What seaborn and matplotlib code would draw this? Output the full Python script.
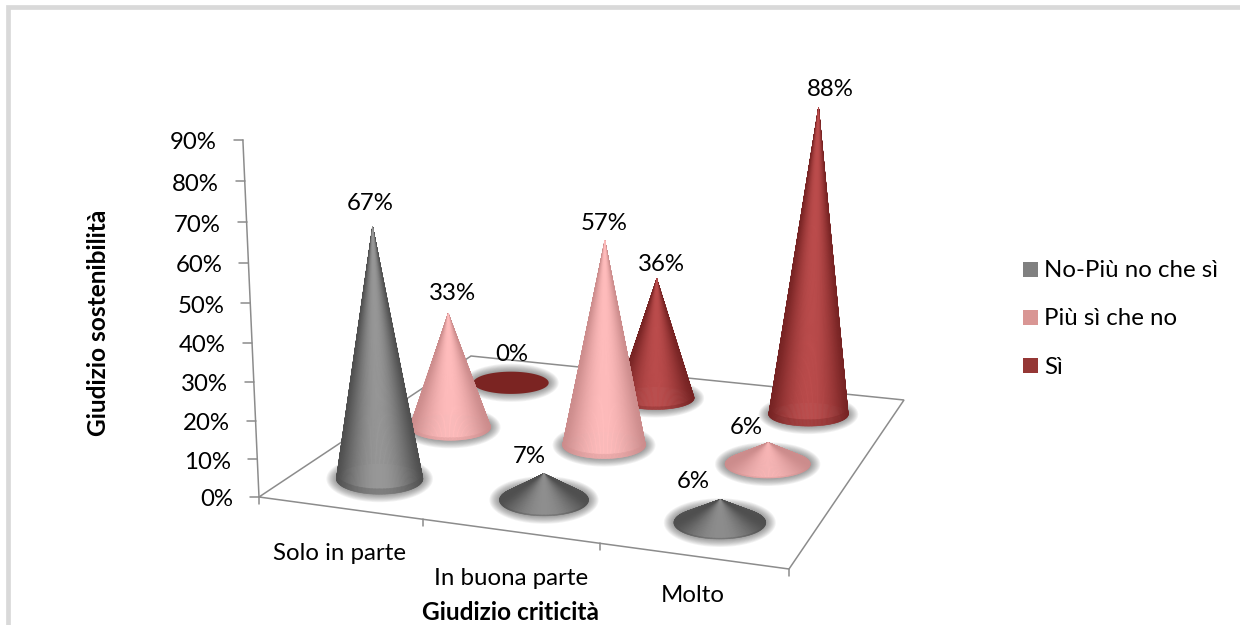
import numpy as np
import pandas as pd
import matplotlib
matplotlib.use("Agg")
import matplotlib.pyplot as plt
from matplotlib.collections import PolyCollection
from matplotlib.colors import to_rgb
from matplotlib.patches import Polygon
import seaborn as sns

# ---- data ----
categories = ["Solo in parte", "In buona parte", "Molto"]
series_names = ["No-Più no che sì", "Più sì che no", "Sì"]
no_values = [67, 7, 6]
mid_values = [33, 57, 6]
yes_values = [0, 36, 88]
tick_values = [0, 10, 20, 30, 40, 50, 60, 70, 80, 90]
x_title = "Giudizio criticità"
y_title = "Giudizio sostenibilità"

# ---- styling ----
sns.set_theme(style="white", font="Lato", rc={"text.color": "black"})
palette = ["#808080", "#D99694", "#953735"]
edge_shade = {0: "#4f4f4f", 1: "#cc8c8c", 2: "#762323"}
core_shade = {0: "#979797", 1: "#ffbcbc", 2: "#bb4c4c"}
FONT = 17.3
AXIS_GREY = "#8c8c8c"

# ---- perspective camera: floor corners, vanishing point of the verticals ----
floor_corners = np.array([[259, 497], [789, 569], [904, 400], [471, 356]], float)
vertical_vp = np.array([575.0, 7500.0])
z_gain = -0.000539
TIP_REACH = 0.985  # cone tips taper to a point slightly short of the nominal height


def floor_homography(c):
    rows, rhs = [], []
    for (u, v), (px, py) in zip([(0, 0), (1, 0), (1, 1), (0, 1)], c):
        rows.append([u, v, 1, 0, 0, 0, -u * px, -v * px])
        rows.append([0, 0, 0, u, v, 1, -u * py, -v * py])
        rhs += [px, py]
    h = np.linalg.solve(np.array(rows), np.array(rhs))
    return np.array([[h[0], h[1], h[2]], [h[3], h[4], h[5]], [h[6], h[7], 1.0]])


H = floor_homography(floor_corners)
CAMERA = np.column_stack([H[:, 0], H[:, 1],
                          z_gain * np.array([vertical_vp[0], vertical_vp[1], 1.0]), H[:, 2]])


def project(u, v, z=0.0):
    u, v, z = np.broadcast_arrays(u, v, z)
    q = CAMERA @ np.vstack([u.ravel(), v.ravel(), z.ravel(), np.ones(u.size)])
    out = (q[:2] / q[2]).T
    return out[0] if u.ndim == 0 else out


records = pd.DataFrame(
    [(cat, name, i, j, val)
     for j, (name, vals) in enumerate(zip(series_names, [no_values, mid_values, yes_values]))
     for i, (cat, val) in enumerate(zip(categories, vals))],
    columns=["category", "series", "i", "j", "value"],
)
records["u"] = (records["i"] + 0.5) / 3
records["v"] = (records["j"] + 0.5) / 3
tips = project(records["u"].values, records["v"].values, TIP_REACH * records["value"].values)
records["tip_x"], records["tip_y"] = tips[:, 0], tips[:, 1]
base = project(records["u"].values, records["v"].values)
records["base_y"] = base[:, 1]

fig = plt.figure(figsize=(12.4, 6.25), dpi=100)
ax = fig.add_axes([0, 0, 1, 1])
ax.set_xlim(0, 1240)
ax.set_ylim(625, 0)

# Outer chart frame, running off the canvas on the right and at the bottom
ax.plot([8, 8, 1250], [640, 7, 7], color="#d9d9d9", lw=3.4, solid_joinstyle="miter", zorder=1)

# Floor plane
ax.add_patch(Polygon(project(np.array([0, 1, 1, 0.]), np.array([0, 0, 1, 1.])), closed=True,
                     facecolor="white", edgecolor=AXIS_GREY, lw=1.1, zorder=2))

# Value axis with ticks and labels
axis_pts = project(np.zeros(2), np.zeros(2), np.array([tick_values[0], tick_values[-1]]))
ax.plot(axis_pts[:, 0], axis_pts[:, 1], color=AXIS_GREY, lw=1.1, zorder=2)
for t in tick_values:
    px, py = project(0.0, 0.0, float(t))
    ax.plot([px - 9, px], [py, py], color=AXIS_GREY, lw=1.1, zorder=2)
    ax.text(px - 26, py + 1, f"{t}%", ha="right", va="center_baseline", fontsize=FONT, color="black")

# Category axis ticks and labels
for k in range(len(categories) + 1):
    px, py = project(k / 3, 0.0)
    ax.plot([px, px], [py, py + 7], color=AXIS_GREY, lw=1.1, zorder=2)
cat_nudge = [(0, 44), (1, 45), (0, 38)]
for k, name in enumerate(categories):
    px, py = project((k + 0.5) / 3, 0.0)
    ax.text(px + cat_nudge[k][0], py + cat_nudge[k][1], name, ha="center", va="center_baseline",
            fontsize=FONT, color="black")

ax.text(510, 611, x_title, ha="center", va="center_baseline", fontsize=17.6, fontweight="bold", color="black")
ax.text(98, 323, y_title, ha="center", va="center", rotation=90, fontsize=17.6, fontweight="bold", color="black")

# Tiny anchors at each cone tip; these also supply the legend entries
sns.scatterplot(data=records, x="tip_x", y="tip_y", hue="series", hue_order=series_names,
                palette=palette, marker="s", s=1, linewidth=0, ax=ax, zorder=1)
ax.set_xlabel("")
ax.set_ylabel("")
sns.move_legend(ax, "upper left", bbox_to_anchor=(1005.5 / 1240, 1 - 248 / 625), frameon=False, title=None,
                fontsize=FONT, labelspacing=1.14, handletextpad=0.1, handlelength=1.0, borderpad=0)
for handle in ax.get_legend().legend_handles:
    handle.set_markersize(10.8)
    handle.set_alpha(1)
for label in ax.get_legend().get_texts():
    label.set_color("black")
ax.set_axis_off()

phi = np.linspace(0, 2 * np.pi, 181)
BASE_SPREAD = 11.7


def blend(a, b, s):
    return tuple((1 - s) * np.array(a) + s * np.array(b))


def draw_cone(row, z):
    j = row["j"]
    u0, v0, h = row["u"], row["v"], float(row["value"])
    centre = project(u0, v0)
    # Base ellipse size follows the local height scale of the camera
    px_per_unit = np.linalg.norm(project(u0, v0, 1.0) - centre)
    a = BASE_SPREAD * px_per_unit
    b = a * (0.37 - 0.09 * v0)
    # Soft halo on the floor around the base
    for d in np.linspace(10, 0.5, 10):
        ring = np.column_stack([centre[0] + (a + d) * np.cos(phi), centre[1] + (b + 0.8 * d) * np.sin(phi)])
        ax.add_patch(Polygon(ring, closed=True, facecolor="#444444", alpha=0.065, edgecolor="none", zorder=z))
    rim = np.column_stack([centre[0] + a * np.cos(phi), centre[1] + b * np.sin(phi)])
    if h == 0:
        ax.add_patch(Polygon(rim, closed=True, facecolor="#7b2422", edgecolor="none", zorder=z + 0.1))
        return
    tip = np.array([row["tip_x"], row["tip_y"]])
    edge, core = to_rgb(edge_shade[j]), to_rgb(core_shade[j])
    strength = min(1.0, 0.7 + h / 40)
    polys, colours, depth = [], [], []
    for p, q in zip(range(len(rim) - 1), range(1, len(rim))):
        mid = (rim[p] + rim[q]) / 2
        s = (mid[0] - centre[0]) / a
        glow = strength * max(0.0, 1 - s * s) ** 1.2
        colour = blend(edge, core, glow)
        if mid[1] < centre[1]:
            colour = blend(colour, edge, 0.55)
        inner = (tip + 0.98 * (rim[p] - tip), tip + 0.98 * (rim[q] - tip))
        polys.append([tip, inner[0], inner[1]])
        colours.append(colour)
        depth.append(mid[1])
        polys.append([inner[0], rim[p], rim[q], inner[1]])
        colours.append(blend(colour, edge, 0.35))
        depth.append(mid[1] + 0.01)
    order = np.argsort(depth)
    ax.add_collection(PolyCollection([polys[k] for k in order], facecolors=[colours[k] for k in order],
                                     edgecolors=[colours[k] for k in order], linewidths=0.4, zorder=z + 0.1))


label_nudge = {(0, 0): (-2, -25), (0, 1): (4, -22), (0, 2): (1, -30),
               (1, 0): (-15, -19), (1, 1): (-1, -19), (1, 2): (5, -17),
               (2, 0): (-27, -20), (2, 1): (-22, -17), (2, 2): (12, -20)}

# Nearest cones go on top of the ones behind them
for n, (_, row) in enumerate(records.sort_values("base_y").iterrows()):
    draw_cone(row, 3 + n)
    dx, dy = label_nudge[(row["i"], row["j"])]
    ax.annotate(f"{row['value']}%", (row["tip_x"], row["tip_y"]), xytext=(dx * 0.72, -dy * 0.72),
                textcoords="offset points", ha="center", va="center_baseline", fontsize=FONT, color="black", zorder=40)

fig.savefig("out.png", dpi=100, facecolor="white")
